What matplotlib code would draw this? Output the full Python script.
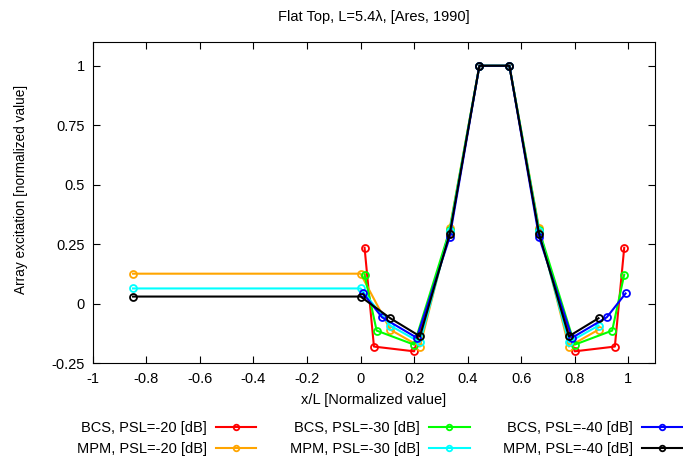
"""Flat-top array excitations: BCS vs MPM for three PSL targets."""

import matplotlib

matplotlib.use("Agg")
import matplotlib.pyplot as plt

plt.rcParams["font.family"] = ["Liberation Sans", "DejaVu Sans"]

# element positions (normalized)
x_bcs20 = [0.015, 0.05, 0.2, 0.333, 0.444, 0.556, 0.667, 0.8, 0.95, 0.985]
x_bcs30 = [0.015, 0.06, 0.2, 0.333, 0.444, 0.556, 0.667, 0.8, 0.94, 0.985]
x_bcs40 = [0.01, 0.08, 0.21, 0.333, 0.444, 0.556, 0.667, 0.79, 0.92, 0.99]
x_mpm = [-0.85, 0.0, 0.111, 0.222, 0.333, 0.444, 0.556, 0.667, 0.778, 0.889]

# excitations
y_bcs20 = [0.236, -0.179, -0.199, 0.30, 1.0, 1.0, 0.30, -0.199, -0.179, 0.236]
y_bcs30 = [0.123, -0.112, -0.171, 0.31, 1.0, 1.0, 0.31, -0.171, -0.112, 0.123]
y_bcs40 = [0.044, -0.056, -0.142, 0.28, 1.0, 1.0, 0.28, -0.142, -0.056, 0.044]
y_mpm20 = [0.127, 0.127, -0.108, -0.179, 0.317, 1.0, 1.0, 0.317, -0.179, -0.108]
y_mpm30 = [0.065, 0.065, -0.091, -0.161, 0.305, 1.0, 1.0, 0.305, -0.161, -0.091]
y_mpm40 = [0.031, 0.031, -0.060, -0.136, 0.295, 1.0, 1.0, 0.295, -0.136, -0.060]

series = [
    ("BCS, PSL=-20 [dB]", x_bcs20, y_bcs20, "#ff0000"),
    ("MPM, PSL=-20 [dB]", x_mpm, y_mpm20, "#ffa500"),
    ("BCS, PSL=-30 [dB]", x_bcs30, y_bcs30, "#00ff00"),
    ("MPM, PSL=-30 [dB]", x_mpm, y_mpm30, "#00ffff"),
    ("BCS, PSL=-40 [dB]", x_bcs40, y_bcs40, "#0000ff"),
    ("MPM, PSL=-40 [dB]", x_mpm, y_mpm40, "#000000"),
]

FS = 10.5

fig = plt.figure(figsize=(6.83, 4.66), dpi=100)
ax = fig.add_axes([0.136, 0.22, 0.823, 0.69])

for label, xs, ys, c in series:
    ax.plot(xs, ys, "-o", color=c, lw=1.5, ms=5, mfc="none", mew=1.3, label=label)

ax.set_xlim(-1, 1.1)
ax.set_ylim(-0.25, 1.1)
ax.set_xticks([-1, -0.8, -0.6, -0.4, -0.2, 0, 0.2, 0.4, 0.6, 0.8, 1])
ax.set_xticklabels(["-1", "-0.8", "-0.6", "-0.4", "-0.2", "0", "0.2", "0.4", "0.6", "0.8", "1"])
ax.set_yticks([-0.25, 0, 0.25, 0.5, 0.75, 1])
ax.set_yticklabels(["-0.25", "0", "0.25", "0.5", "0.75", "1"])
ax.tick_params(direction="in", top=True, right=True, labelsize=FS, length=5, pad=6)
ax.set_xlabel("x/L [Normalized value]", fontsize=FS, labelpad=5)
ax.set_ylabel("Array excitation [normalized value]", fontsize=9.8)
ax.yaxis.set_label_coords(-0.115, 0.54)
ax.set_title("Flat Top, L=5.4\u03bb, [Ares, 1990]", fontsize=FS, pad=15)

fig.legend(loc="upper left", bbox_to_anchor=(0.104, 0.109), ncol=3, frameon=False,
           borderaxespad=0, markerfirst=False, fontsize=FS, handlelength=2.8,
           handletextpad=0.6, columnspacing=2.3, labelspacing=0.5, markerscale=0.8)

fig.savefig("out.png", dpi=100)
